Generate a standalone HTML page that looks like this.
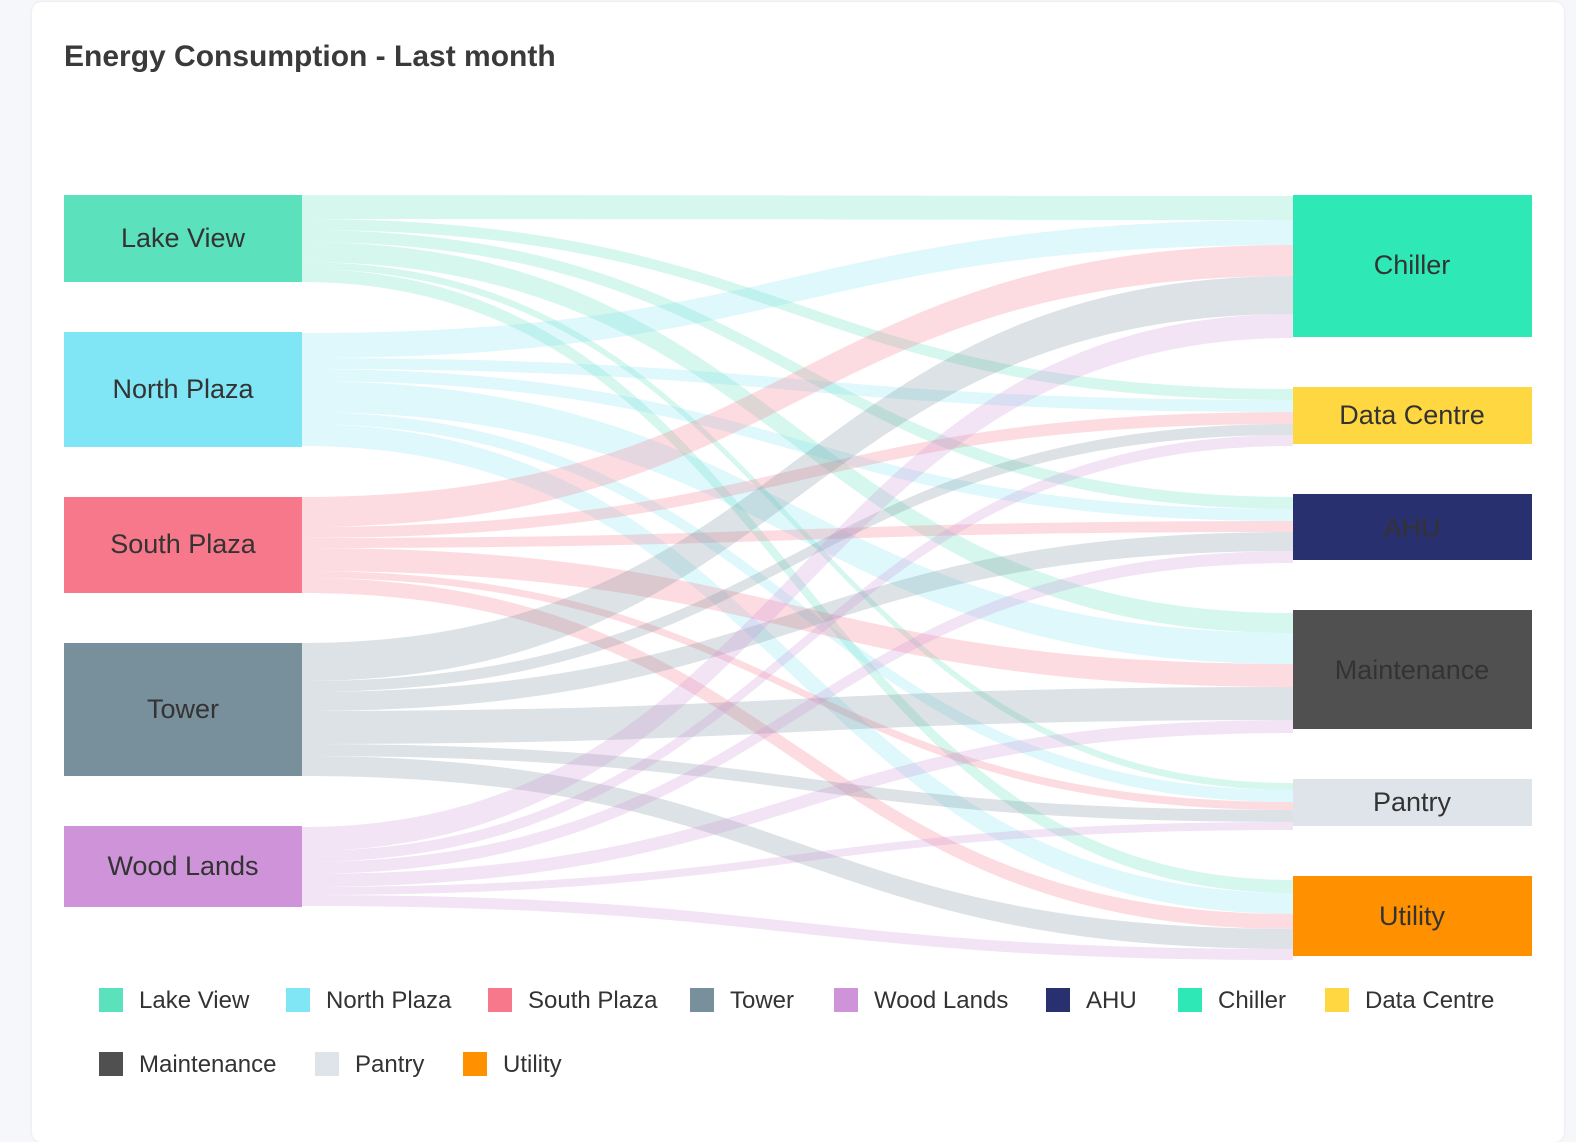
<!DOCTYPE html>
<html><head><meta charset="utf-8"><style>
html,body{margin:0;padding:0;}
body{width:1576px;height:1136px;background:#f6f7fb;position:relative;overflow:hidden;font-family:"Liberation Sans",sans-serif;}
.card{position:absolute;left:32px;top:2px;width:1532px;height:1140px;background:#fff;border-radius:10px;box-shadow:0 0 3px rgba(0,0,0,0.08);}
.title{position:absolute;left:64px;top:40px;font-size:30px;font-weight:bold;color:#3a3a3a;}
svg{position:absolute;left:0;top:0;}
.lg{position:absolute;font-size:24px;color:#333;height:30px;line-height:30px;}
.lg i{display:inline-block;width:24px;height:24px;vertical-align:-4px;margin-right:16px;}
</style></head><body>
<div class="card"></div>
<div class="title">Energy Consumption - Last month</div>
<svg width="1576" height="1136" viewBox="0 0 1576 1136">
<g fill-opacity="0.26">
<!-- Lake View -->
<g fill="#5ce1bd">
<path d="M302,195 C797,195 797,196 1293,196 L1293,220 C797,220 797,219 302,219Z"/>
<path d="M302,219 C797,219 797,389 1293,389 L1293,400 C797,400 797,230 302,230Z"/>
<path d="M302,230 C797,230 797,497 1293,497 L1293,509 C797,509 797,242 302,242Z"/>
<path d="M302,242 C797,242 797,613 1293,613 L1293,633 C797,633 797,262 302,262Z"/>
<path d="M302,262 C797,262 797,783 1293,783 L1293,790 C797,790 797,269 302,269Z"/>
<path d="M302,269 C797,269 797,880 1293,880 L1293,893 C797,893 797,282 302,282Z"/>
</g>
<g fill="#80e5f5">
<path d="M302,333 C797,333 797,220 1293,220 L1293,245 C797,245 797,358 302,358Z"/>
<path d="M302,358 C797,358 797,400 1293,400 L1293,412 C797,412 797,369 302,369Z"/>
<path d="M302,369 C797,369 797,509 1293,509 L1293,521 C797,521 797,381 302,381Z"/>
<path d="M302,381 C797,381 797,633 1293,633 L1293,664 C797,664 797,412 302,412Z"/>
<path d="M302,412 C797,412 797,790 1293,790 L1293,802 C797,802 797,424 302,424Z"/>
<path d="M302,424 C797,424 797,893 1293,893 L1293,914 C797,914 797,446 302,446Z"/>
</g>
<g fill="#f7788a">
<path d="M302,497 C797,497 797,245 1293,245 L1293,276 C797,276 797,527 302,527Z"/>
<path d="M302,527 C797,527 797,412 1293,412 L1293,424 C797,424 797,538 302,538Z"/>
<path d="M302,538 C797,538 797,521 1293,521 L1293,532 C797,532 797,548 302,548Z"/>
<path d="M302,548 C797,548 797,664 1293,664 L1293,687 C797,687 797,571 302,571Z"/>
<path d="M302,571 C797,571 797,802 1293,802 L1293,810 C797,810 797,578 302,578Z"/>
<path d="M302,578 C797,578 797,914 1293,914 L1293,929 C797,929 797,593 302,593Z"/>
</g>
<g fill="#78909c">
<path d="M302,643 C797,643 797,276 1293,276 L1293,314 C797,314 797,681 302,681Z"/>
<path d="M302,681 C797,681 797,424 1293,424 L1293,435 C797,435 797,692 302,692Z"/>
<path d="M302,692 C797,692 797,532 1293,532 L1293,551 C797,551 797,711 302,711Z"/>
<path d="M302,711 C797,711 797,687 1293,687 L1293,720 C797,720 797,744 302,744Z"/>
<path d="M302,744 C797,744 797,810 1293,810 L1293,822 C797,822 797,756 302,756Z"/>
<path d="M302,756 C797,756 797,929 1293,929 L1293,949 C797,949 797,776 302,776Z"/>
</g>
<g fill="#ce93d8">
<path d="M302,827 C797,827 797,314 1293,314 L1293,338 C797,338 797,851 302,851Z"/>
<path d="M302,851 C797,851 797,435 1293,435 L1293,446 C797,446 797,862 302,862Z"/>
<path d="M302,862 C797,862 797,551 1293,551 L1293,563 C797,563 797,874 302,874Z"/>
<path d="M302,874 C797,874 797,720 1293,720 L1293,733 C797,733 797,887 302,887Z"/>
<path d="M302,887 C797,887 797,822 1293,822 L1293,830 C797,830 797,895 302,895Z"/>
<path d="M302,895 C797,895 797,949 1293,949 L1293,960 C797,960 797,906 302,906Z"/>
</g>
</g>
<rect x="64" y="195" width="238" height="87" fill="#5ce1bd"/>
<rect x="64" y="332" width="238" height="115" fill="#80e5f5"/>
<rect x="64" y="497" width="238" height="96" fill="#f7788a"/>
<rect x="64" y="643" width="238" height="133" fill="#78909c"/>
<rect x="64" y="826" width="238" height="81" fill="#ce93d8"/>
<rect x="1293" y="195" width="239" height="142" fill="#2ee8b6"/>
<rect x="1293" y="387" width="239" height="57" fill="#ffd740"/>
<rect x="1293" y="494" width="239" height="66" fill="#283070"/>
<rect x="1293" y="610" width="239" height="119" fill="#505050"/>
<rect x="1293" y="779" width="239" height="47" fill="#dfe4ea"/>
<rect x="1293" y="876" width="239" height="80" fill="#ff9100"/>
<g font-family="Liberation Sans, sans-serif" font-size="27" fill="#333" text-anchor="middle">
<text x="183" y="247">Lake View</text>
<text x="183" y="398">North Plaza</text>
<text x="183" y="553">South Plaza</text>
<text x="183" y="718">Tower</text>
<text x="183" y="875">Wood Lands</text>
<text x="1412" y="274">Chiller</text>
<text x="1412" y="424">Data Centre</text>
<text x="1412" y="537">AHU</text>
<text x="1412" y="679">Maintenance</text>
<text x="1412" y="811">Pantry</text>
<text x="1412" y="925">Utility</text>
</g>
</svg>
<div class="lg" style="left:99px;top:986px"><i style="background:#5ce1bd"></i>Lake View</div>
<div class="lg" style="left:286px;top:986px"><i style="background:#80e5f5"></i>North Plaza</div>
<div class="lg" style="left:488px;top:986px"><i style="background:#f7788a"></i>South Plaza</div>
<div class="lg" style="left:690px;top:986px"><i style="background:#78909c"></i>Tower</div>
<div class="lg" style="left:834px;top:986px"><i style="background:#ce93d8"></i>Wood Lands</div>
<div class="lg" style="left:1046px;top:986px"><i style="background:#283070"></i>AHU</div>
<div class="lg" style="left:1178px;top:986px"><i style="background:#2ee8b6"></i>Chiller</div>
<div class="lg" style="left:1325px;top:986px"><i style="background:#ffd740"></i>Data Centre</div>
<div class="lg" style="left:99px;top:1050px"><i style="background:#505050"></i>Maintenance</div>
<div class="lg" style="left:315px;top:1050px"><i style="background:#dfe4ea"></i>Pantry</div>
<div class="lg" style="left:463px;top:1050px"><i style="background:#ff9100"></i>Utility</div>
</body></html>
